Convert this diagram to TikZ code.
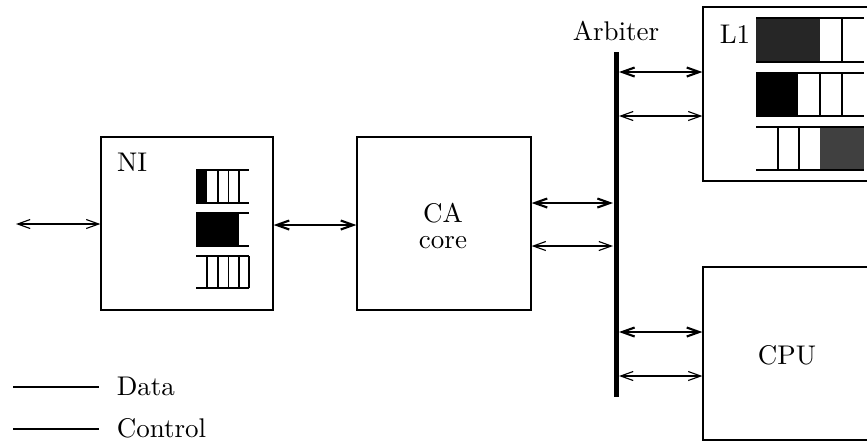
\documentclass[tikz,border=0pt]{standalone}
\usetikzlibrary{arrows.meta}
\begin{document}
\begin{tikzpicture}[x=0.4pt,y=-0.4pt,
  every node/.style={font=\fontsize{10.8}{13}\selectfont},
  box/.style={draw, line width=0.5pt, inner sep=0pt},
  datalink/.style={line width=0.85pt, {Straight Barb[length=5pt,width=3.6pt]}-{Straight Barb[length=5pt,width=3.6pt]}},
  ctrllink/.style={line width=0.45pt, {Straight Barb[length=5pt,width=3.6pt]}-{Straight Barb[length=5pt,width=3.6pt]}},
  qline/.style={line width=0.5pt},
  datal/.style={line width=0.85pt},
  ctrll/.style={line width=0.45pt}]
\clip (0,0) rectangle (867,443);
\fill[white] (0,0) rectangle (867,443);

% boxes
\node[box, minimum width=68.8pt, minimum height=69.2pt] (ni) at (187,223.5) {};
\node[box, minimum width=69.6pt, minimum height=69.2pt] (ca) at (444,223.5) {};
\node[box, minimum width=70pt, minimum height=69.6pt] (l1) at (790.5,94) {};
\node[box, minimum width=70pt, minimum height=69.2pt] (cpu) at (790.5,353.5) {};

% labels
\node (nilab) at (132,162) {NI};
\node[anchor=base, inner sep=0pt] (calab) at (443,222) {CA};
\node[anchor=base, inner sep=0pt] (corelab) at (443,248) {core};
\node (l1lab) at (735,34) {L1};
\node (cpulab) at (787,355) {CPU};
\node (arblab) at (616,31) {Arbiter};

% arbiter bar
\node[fill=black, inner sep=0pt, minimum width=2pt, minimum height=138pt] (arb) at (616,224.5) {};

% NI queues
\fill (196,170) rectangle (207,203);
\draw[qline] (196,170) -- (249,170) (196,203) -- (249,203)
  (218,170) -- (218,203) (228.5,170) -- (228.5,203) (239,170) -- (239,203);
\fill (196,213) rectangle (239,246);
\draw[qline] (196,213) -- (249,213) (196,246) -- (249,246);
\draw[qline] (196,256) -- (249,256) (196,288) -- (249,288)
  (207,256) -- (207,288) (218,256) -- (218,288) (228.5,256) -- (228.5,288)
  (239,256) -- (239,288) (249,256) -- (249,288);

% L1 queues
\fill[black!85] (756,18) rectangle (820,62);
\draw[qline] (756,18) -- (864,18) (756,62) -- (864,62) (842,18) -- (842,62);
\fill (756,73) rectangle (798,116);
\draw[qline] (756,73) -- (864,73) (756,116) -- (864,116) (820,73) -- (820,116) (842,73) -- (842,116);
\fill[black!75] (820,127) rectangle (864,170);
\draw[qline] (756,127) -- (864,127) (756,170) -- (864,170) (778,127) -- (778,170) (799,127) -- (799,170);

% connectors
\coordinate (ext) at (16,224);
\draw[ctrllink] (ext) -- (ni.west |- ext);
\draw[datalink] (ni.east |- 0,225) -- (ca.west |- 0,225);
\draw[datalink] (ca.east |- 0,203) -- (arb.west |- 0,203);
\draw[ctrllink] (ca.east |- 0,246) -- (arb.west |- 0,246);
\draw[datalink] (arb.east |- 0,72) -- (l1.west |- 0,72);
\draw[ctrllink] (arb.east |- 0,116) -- (l1.west |- 0,116);
\draw[datalink] (arb.east |- 0,332) -- (cpu.west |- 0,332);
\draw[ctrllink] (arb.east |- 0,376) -- (cpu.west |- 0,376);

% legend
\coordinate (d1) at (13,387); \coordinate (d2) at (99,387);
\coordinate (c1) at (13,429); \coordinate (c2) at (99,429);
\draw[datal] (d1) -- (d2);
\draw[ctrll] (c1) -- (c2);
\node[anchor=base west] (datalab) at (108,395) {Data};
\node[anchor=base west] (ctrllab) at (108,437) {Control};
\end{tikzpicture}
\end{document}
